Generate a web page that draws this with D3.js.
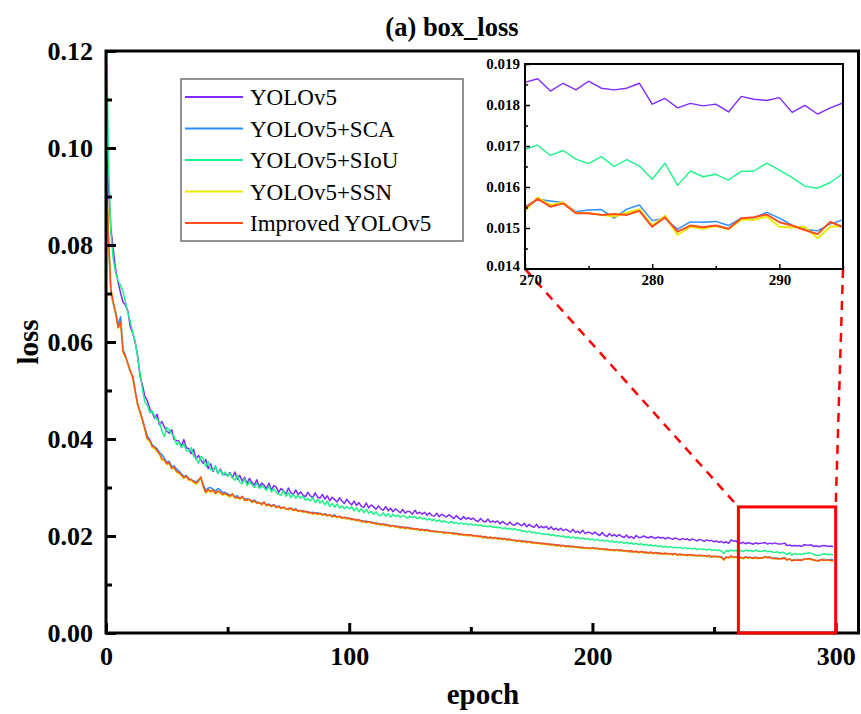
<!DOCTYPE html>
<html>
<head>
<meta charset="utf-8">
<script src="https://cdn.jsdelivr.net/npm/d3@7"></script>
<style>
  body { margin: 0; background: #fff; }
  text { font-family: "Liberation Serif", "Times New Roman", serif; }
</style>
</head>
<body>
<div id="chart"></div>
<script>
// loss values per epoch (0..299), stored in units of 1e-5
const lossUnit = 1e-5;

const yolov5 = [
10100,9250,8350,7900,7480,7230,7010,6820,6760,6640,
6310,6180,5990,5720,5290,5110,4880,4790,4620,4540,
4430,4510,4290,4360,4250,4160,4120,4190,3990,3970,
3960,3850,3990,3820,3800,3700,3790,3590,3660,3570,
3500,3580,3390,3490,3330,3440,3290,3380,3280,3270,
3250,3310,3200,3320,3170,3250,3130,3210,3080,3190,
3100,3050,3160,3010,3090,3050,2980,3090,2950,3040,
3010,2900,2980,2930,2870,2990,2890,2860,2950,2850,
2910,2840,2810,2900,2830,2790,2890,2800,2780,2860,
2760,2830,2730,2800,2750,2700,2790,2720,2670,2760,
2690,2640,2720,2630,2690,2610,2590,2680,2580,2640,
2600,2550,2620,2560,2530,2610,2520,2570,2500,2560,
2520,2480,2550,2470,2510,2500,2450,2530,2460,2490,
2450,2490,2430,2480,2420,2410,2470,2400,2450,2420,
2390,2440,2400,2360,2420,2370,2340,2400,2350,2380,
2340,2370,2320,2300,2360,2310,2290,2350,2280,2310,
2280,2310,2250,2300,2260,2230,2290,2240,2220,2270,
2240,2210,2260,2190,2240,2200,2180,2240,2170,2200,
2170,2200,2140,2190,2130,2160,2120,2160,2110,2140,
2110,2080,2140,2070,2100,2060,2120,2050,2080,2070,
2040,2080,2040,2010,2070,2020,1990,2050,2000,2030,
1990,2030,1990,1970,2020,1960,1990,1950,2010,1970,
1970,2000,1980,1960,1990,1970,1950,1980,1960,1970,
1940,1970,1950,1930,1960,1940,1920,1950,1930,1940,
1910,1940,1920,1900,1930,1910,1890,1920,1900,1910,
1880,1900,1870,1890,1860,1880,1850,1920,1890,1900,
1860,1850,1870,1840,1860,1850,1830,1860,1840,1850,
1855,1864,1834,1853,1837,1858,1841,1837,1841,1853,
1802,1816,1793,1804,1798,1802,1783,1821,1814,1811,
1818,1782,1799,1778,1793,1805,1797,1784,1792,1779];

const yolov5Sca = [
9700,8100,7000,6780,6620,6350,6520,5850,5720,5530,
5380,5300,5010,4700,4580,4400,4230,4060,3990,3880,
3840,3800,3720,3680,3600,3520,3540,3430,3450,3380,
3340,3280,3230,3250,3190,3150,3140,3110,3160,3180,
3060,2940,2990,3000,2960,2930,2980,2950,2890,2900,
2870,2840,2850,2810,2830,2780,2800,2760,2770,2740,
2720,2740,2700,2680,2670,2690,2640,2660,2620,2650,
2600,2620,2580,2590,2550,2570,2560,2540,2560,2520,
2510,2520,2490,2500,2470,2490,2460,2480,2450,2430,
2460,2430,2420,2410,2440,2380,2400,2380,2360,2370,
2350,2360,2330,2340,2310,2320,2290,2310,2280,2290,
2260,2270,2240,2250,2230,2240,2210,2220,2200,2210,
2180,2190,2170,2180,2160,2170,2140,2150,2130,2140,
2120,2130,2110,2120,2090,2100,2080,2090,2070,2080,
2060,2070,2050,2060,2040,2050,2020,2030,2010,2020,
2010,2010,1990,2000,1980,1990,1960,1970,1950,1960,
1950,1960,1940,1950,1930,1940,1910,1920,1900,1910,
1890,1900,1880,1890,1870,1880,1850,1860,1850,1850,
1830,1840,1820,1830,1810,1820,1800,1810,1790,1800,
1780,1790,1770,1780,1760,1770,1750,1760,1740,1750,
1740,1750,1730,1740,1720,1730,1710,1720,1700,1710,
1700,1710,1690,1700,1680,1690,1670,1680,1660,1670,
1670,1670,1650,1660,1650,1650,1640,1650,1630,1640,
1630,1640,1620,1630,1620,1620,1610,1620,1600,1610,
1600,1610,1590,1600,1590,1600,1580,1590,1570,1580,
1570,1580,1560,1570,1520,1560,1550,1580,1560,1560,
1560,1550,1550,1560,1560,1550,1550,1560,1550,1550,
1552,1570,1566,1562,1540,1544,1545,1524,1546,1556,
1518,1524,1497,1515,1514,1516,1506,1524,1525,1538,
1524,1507,1497,1493,1510,1520,1512,1505,1515,1508];

const yolov5Siou = [
13000,9800,8250,7700,7420,7260,7170,7040,6820,6600,
6420,6190,6010,5690,5360,5010,4760,4700,4540,4570,
4470,4400,4350,4160,4050,4240,4180,4110,4050,3880,
3940,3820,3900,3760,3750,3820,3650,3600,3500,3640,
3600,3430,3530,3370,3350,3450,3290,3360,3250,3320,
3230,3290,3190,3150,3250,3110,3080,3180,3040,3120,
3060,3000,3090,2980,3040,3000,2940,3030,2910,2970,
2900,2860,2840,2940,2820,2890,2790,2860,2780,2840,
2780,2820,2740,2770,2720,2790,2690,2760,2680,2730,
2640,2720,2610,2670,2590,2660,2580,2620,2560,2610,
2560,2600,2520,2580,2500,2560,2480,2550,2470,2510,
2450,2500,2430,2420,2480,2410,2460,2390,2450,2400,
2430,2390,2420,2400,2370,2410,2380,2400,2360,2390,
2350,2370,2330,2360,2320,2340,2300,2330,2290,2310,
2290,2270,2300,2260,2280,2250,2270,2240,2260,2230,
2250,2220,2240,2210,2230,2200,2210,2190,2210,2180,
2190,2170,2180,2150,2170,2140,2160,2130,2150,2120,
2130,2100,2110,2080,2100,2070,2080,2050,2070,2040,
2050,2030,2040,2010,2030,2000,2010,1990,2000,1970,
1990,1960,1980,1950,1970,1940,1960,1930,1950,1920,
1940,1910,1930,1900,1920,1890,1910,1880,1900,1870,
1890,1860,1880,1850,1870,1840,1860,1830,1850,1820,
1840,1810,1830,1800,1820,1790,1810,1780,1800,1770,
1790,1760,1780,1760,1770,1750,1770,1740,1760,1740,
1750,1730,1750,1720,1740,1720,1730,1710,1730,1700,
1720,1700,1710,1690,1640,1700,1680,1710,1690,1700,
1690,1700,1680,1710,1690,1700,1680,1710,1690,1680,
1692,1702,1677,1689,1668,1657,1674,1650,1667,1651,
1619,1658,1604,1639,1625,1631,1617,1638,1639,1658,
1641,1623,1602,1597,1611,1633,1628,1615,1622,1610];

const yolov5Ssn = [
9800,8150,7050,6800,6560,6280,6400,5780,5680,5540,
5390,5240,4960,4700,4540,4370,4180,3990,3940,3820,
3800,3740,3680,3560,3550,3470,3490,3380,3400,3310,
3290,3240,3180,3220,3150,3140,3100,3060,3110,3200,
3000,2880,2940,2900,2930,2860,2910,2880,2840,2860,
2830,2800,2850,2780,2790,2760,2800,2730,2730,2750,
2690,2720,2670,2680,2640,2690,2620,2640,2600,2630,
2580,2600,2560,2590,2550,2540,2570,2520,2540,2500,
2520,2490,2500,2470,2480,2450,2470,2440,2460,2430,
2440,2410,2430,2390,2410,2380,2400,2360,2380,2350,
2360,2330,2340,2310,2330,2290,2300,2270,2290,2260,
2270,2240,2250,2220,2240,2210,2220,2190,2210,2180,
2190,2160,2180,2150,2170,2140,2150,2130,2140,2110,
2130,2100,2120,2090,2100,2080,2090,2070,2080,2050,
2070,2050,2060,2030,2050,2020,2030,2010,2020,2000,
2020,1990,2000,1980,1990,1960,1980,1950,1970,1940,
1960,1930,1950,1920,1940,1910,1930,1900,1910,1880,
1900,1870,1890,1860,1880,1850,1860,1840,1850,1830,
1840,1820,1830,1810,1820,1790,1810,1780,1800,1770,
1790,1770,1780,1760,1770,1750,1760,1740,1750,1730,
1750,1730,1740,1720,1730,1710,1720,1700,1710,1690,
1710,1690,1700,1680,1690,1670,1690,1660,1680,1650,
1670,1650,1660,1640,1660,1630,1650,1630,1640,1620,
1640,1620,1630,1610,1630,1600,1620,1600,1610,1590,
1610,1590,1600,1580,1600,1580,1590,1570,1590,1560,
1580,1560,1570,1550,1500,1560,1540,1580,1550,1560,
1540,1550,1530,1560,1540,1550,1530,1550,1530,1540,
1542,1574,1556,1562,1537,1536,1532,1528,1537,1546,
1506,1530,1483,1503,1498,1505,1497,1520,1520,1528,
1503,1501,1503,1475,1503,1505,1494,1500,1490,1485];

const improvedYolov5 = [
9900,8200,7100,6820,6580,6300,6420,5800,5700,5560,
5400,5270,4980,4720,4560,4390,4200,4010,3970,3850,
3830,3760,3700,3590,3570,3490,3510,3400,3420,3330,
3310,3260,3200,3240,3160,3170,3120,3090,3140,3220,
3020,2900,2960,2920,2950,2880,2930,2900,2860,2880,
2850,2820,2870,2790,2800,2770,2820,2740,2740,2760,
2700,2730,2680,2690,2650,2700,2630,2650,2610,2640,
2590,2610,2570,2600,2560,2550,2580,2530,2550,2510,
2530,2500,2510,2480,2490,2460,2480,2450,2470,2440,
2450,2420,2440,2400,2420,2390,2410,2370,2390,2360,
2370,2340,2350,2320,2340,2300,2310,2280,2300,2270,
2280,2250,2260,2230,2250,2220,2230,2200,2220,2190,
2200,2170,2190,2160,2180,2150,2160,2140,2150,2120,
2140,2110,2130,2100,2110,2090,2100,2080,2090,2060,
2080,2060,2070,2040,2060,2030,2040,2020,2030,2010,
2030,2000,2010,1990,2000,1970,1990,1960,1980,1950,
1970,1940,1960,1930,1950,1920,1940,1910,1920,1890,
1910,1880,1900,1870,1890,1860,1870,1850,1860,1840,
1850,1830,1840,1820,1830,1800,1820,1790,1810,1780,
1800,1780,1790,1770,1780,1760,1770,1750,1760,1740,
1760,1740,1750,1730,1740,1720,1730,1710,1720,1700,
1720,1700,1710,1690,1700,1680,1700,1670,1690,1660,
1680,1660,1670,1650,1670,1640,1660,1640,1650,1630,
1650,1630,1640,1620,1640,1610,1630,1610,1620,1600,
1620,1600,1610,1590,1610,1590,1600,1580,1600,1570,
1590,1570,1580,1560,1510,1570,1550,1590,1560,1570,
1550,1560,1540,1570,1550,1560,1540,1560,1540,1550,
1548,1571,1552,1560,1536,1536,1532,1534,1532,1542,
1503,1526,1491,1506,1502,1506,1498,1524,1526,1533,
1514,1506,1495,1485,1515,1502,1498,1508,1495,1490];

const seriesNames = ["YOLOv5", "YOLOv5+SCA", "YOLOv5+SIoU", "YOLOv5+SSN", "Improved YOLOv5"];
const seriesValues = [yolov5, yolov5Sca, yolov5Siou, yolov5Ssn, improvedYolov5];
const seriesColors = ["#7f2bff", "#2a8cff", "#1ef28a", "#eaea00", "#ff4e1a"];

const yTicks = [0, 0.02, 0.04, 0.06, 0.08, 0.10, 0.12];
const yMinorTicks = [0.01, 0.03, 0.05, 0.07, 0.09, 0.11];
const xTicks = [0, 100, 200, 300];
const xMinorTicks = [50, 150, 250];

// zoomed inset
const insetEpochs = [270, 295];
const insetLoss = [0.014, 0.019];
const insetYTicks = [0.014, 0.015, 0.016, 0.017, 0.018, 0.019];
const insetYMinor = [0.0145, 0.0155, 0.0165, 0.0175, 0.0185];
const insetXTicks = [270, 280, 290];
const insetXMinor = [275, 285, 295];
// red box marking the zoomed region on the main chart
const boxEpochs = [260, 300];
const boxLoss = [0, 0.026];

const width = 861, height = 714;
const margin = ({top: 51, right: 1, bottom: 81, left: 106});

const series = seriesNames.map((name, i) => ({
  name: name,
  color: seriesColors[i],
  values: seriesValues[i].map((v, e) => [e, v * lossUnit])
}));

const x = d3.scaleLinear().domain([0, 310]).range([margin.left, width - margin.right]);
const y = d3.scaleLinear().domain([0, 0.12]).range([height - margin.bottom, margin.top]);

const xi = d3.scaleLinear().domain(insetEpochs).range([525, 843]);
const yi = d3.scaleLinear().domain(insetLoss).range([269, 64]);

const line = d3.line().x(d => x(d[0])).y(d => y(d[1]));
const insetLine = d3.line().x(d => xi(d[0])).y(d => yi(d[1]));

document.addEventListener("DOMContentLoaded", function() {
  const svg = d3.select("#chart").append("svg")
    .attr("width", width).attr("height", height)
    .style("background", "#fff");

  const defs = svg.append("defs");
  defs.append("clipPath").attr("id", "plotclip").append("rect")
    .attr("x", x.range()[0]).attr("y", y.range()[1])
    .attr("width", x.range()[1] - x.range()[0]).attr("height", y.range()[0] - y.range()[1]);
  defs.append("clipPath").attr("id", "insetclip").append("rect")
    .attr("x", xi.range()[0]).attr("y", yi.range()[1])
    .attr("width", xi.range()[1] - xi.range()[0]).attr("height", yi.range()[0] - yi.range()[1]);

  // main curves
  svg.append("g").attr("clip-path", "url(#plotclip)")
    .selectAll("path").data(series).enter().append("path")
    .attr("fill", "none")
    .attr("stroke", d => d.color)
    .attr("stroke-width", 1.5)
    .attr("stroke-linejoin", "round")
    .attr("d", d => line(d.values));

  // axes with inward ticks
  const tickFont = g => g.selectAll("text")
    .style("font-family", "'Liberation Serif', serif")
    .style("font-weight", "bold").style("font-size", "26px").attr("fill", "#000");

  svg.append("g").attr("transform", `translate(${margin.left},0)`)
    .call(d3.axisLeft(y).tickValues(yTicks).tickFormat(d3.format(".2f")).tickSize(-10).tickPadding(13).tickSizeOuter(0))
    .call(g => g.select(".domain").remove())
    .call(g => g.selectAll("line").attr("stroke-width", 3))
    .call(tickFont);
  svg.append("g").attr("transform", `translate(${margin.left},0)`)
    .call(d3.axisLeft(y).tickValues(yMinorTicks).tickFormat("").tickSize(-6).tickSizeOuter(0))
    .call(g => g.select(".domain").remove())
    .call(g => g.selectAll("line").attr("stroke-width", 3));

  svg.append("g").attr("transform", `translate(0,${height - margin.bottom})`)
    .call(d3.axisBottom(x).tickValues(xTicks).tickFormat(d3.format("d")).tickSize(-10).tickPadding(14).tickSizeOuter(0))
    .call(g => g.select(".domain").remove())
    .call(g => g.selectAll("line").attr("stroke-width", 3))
    .call(tickFont);
  svg.append("g").attr("transform", `translate(0,${height - margin.bottom})`)
    .call(d3.axisBottom(x).tickValues(xMinorTicks).tickFormat("").tickSize(-6).tickSizeOuter(0))
    .call(g => g.select(".domain").remove())
    .call(g => g.selectAll("line").attr("stroke-width", 3));

  // plot frame
  svg.append("rect")
    .attr("x", x.range()[0]).attr("y", y.range()[1])
    .attr("width", x.range()[1] - x.range()[0] - 1.5).attr("height", y.range()[0] - y.range()[1])
    .attr("fill", "none").attr("stroke", "#000").attr("stroke-width", 3);

  // titles
  svg.append("text")
    .attr("x", 452).attr("y", 36)
    .attr("text-anchor", "middle")
    .style("font-weight", "bold").style("font-size", "26.5px")
    .text("(a) box_loss");

  svg.append("text")
    .attr("x", (x.range()[0] + x.range()[1]) / 2).attr("y", 704)
    .attr("text-anchor", "middle")
    .style("font-weight", "bold").style("font-size", "29px")
    .text("epoch");

  svg.append("text")
    .attr("transform", `translate(38,${(y.range()[0] + y.range()[1]) / 2}) rotate(-90)`)
    .attr("text-anchor", "middle")
    .style("font-weight", "bold").style("font-size", "29px")
    .text("loss");

  // legend
  const legend = svg.append("g").attr("transform", "translate(181,79)");
  legend.append("rect")
    .attr("width", 282).attr("height", 162)
    .attr("fill", "#fff").attr("stroke", "#707070").attr("stroke-width", 1.5);
  const item = legend.selectAll("g.item").data(series).enter().append("g")
    .attr("class", "item")
    .attr("transform", (d, i) => `translate(0,${18 + i * 31.5})`);
  item.append("line")
    .attr("x1", 4).attr("x2", 62)
    .attr("stroke", d => d.color).attr("stroke-width", 2);
  item.append("text")
    .attr("x", 69).attr("y", 8)
    .style("font-size", "23px")
    .text(d => d.name);

  // red zoom box and connectors
  svg.append("rect")
    .attr("x", x(boxEpochs[0])).attr("y", y(boxLoss[1]))
    .attr("width", x(boxEpochs[1]) - x(boxEpochs[0])).attr("height", y(boxLoss[0]) - y(boxLoss[1]))
    .attr("fill", "none").attr("stroke", "#ff0000").attr("stroke-width", 3);

  svg.append("line")
    .attr("x1", xi(insetEpochs[0])).attr("y1", yi(insetLoss[0]))
    .attr("x2", x(boxEpochs[0])).attr("y2", y(boxLoss[1]))
    .attr("stroke", "#ff0000").attr("stroke-width", 2.5).attr("stroke-dasharray", "9,7");
  svg.append("line")
    .attr("x1", xi(insetEpochs[1])).attr("y1", yi(insetLoss[0]))
    .attr("x2", x(boxEpochs[1])).attr("y2", y(boxLoss[1]))
    .attr("stroke", "#ff0000").attr("stroke-width", 2.5).attr("stroke-dasharray", "9,7");

  // inset
  const inset = svg.append("g");
  inset.append("rect")
    .attr("x", xi.range()[0]).attr("y", yi.range()[1])
    .attr("width", xi.range()[1] - xi.range()[0]).attr("height", yi.range()[0] - yi.range()[1])
    .attr("fill", "#fff");

  inset.append("g").attr("clip-path", "url(#insetclip)")
    .selectAll("path").data(series).enter().append("path")
    .attr("fill", "none")
    .attr("stroke", d => d.color)
    .attr("stroke-width", (d, i) => i >= 3 ? 2 : 1.4)
    .attr("stroke-linejoin", "round")
    .attr("d", d => insetLine(d.values.filter(v => v[0] >= 269 && v[0] <= 296)));

  const insetFont = g => g.selectAll("text")
    .style("font-family", "'Liberation Serif', serif")
    .style("font-weight", "bold").style("font-size", "15px").attr("fill", "#000");

  inset.append("g").attr("transform", `translate(${xi.range()[0]},0)`)
    .call(d3.axisLeft(yi).tickValues(insetYTicks).tickFormat(d3.format(".3f")).tickSize(-5).tickPadding(5).tickSizeOuter(0))
    .call(g => g.select(".domain").remove())
    .call(g => g.selectAll("line").attr("stroke-width", 1.5))
    .call(g => g.selectAll("text").attr("dy", (d, i) => i === 0 ? "0.1em" : "0.32em"))
    .call(insetFont);
  inset.append("g").attr("transform", `translate(${xi.range()[0]},0)`)
    .call(d3.axisLeft(yi).tickValues(insetYMinor).tickFormat("").tickSize(-3).tickSizeOuter(0))
    .call(g => g.select(".domain").remove())
    .call(g => g.selectAll("line").attr("stroke-width", 1.5));
  inset.append("g").attr("transform", `translate(0,${yi.range()[0]})`)
    .call(d3.axisBottom(xi).tickValues(insetXTicks).tickFormat(d3.format("d")).tickSize(-5).tickPadding(5).tickSizeOuter(0))
    .call(g => g.select(".domain").remove())
    .call(g => g.selectAll("line").attr("stroke-width", 1.5))
    .call(g => g.selectAll("text").attr("dx", (d, i) => i === 0 ? "0.35em" : 0))
    .call(insetFont);
  inset.append("g").attr("transform", `translate(0,${yi.range()[0]})`)
    .call(d3.axisBottom(xi).tickValues(insetXMinor).tickFormat("").tickSize(-3).tickSizeOuter(0))
    .call(g => g.select(".domain").remove())
    .call(g => g.selectAll("line").attr("stroke-width", 1.5));

  inset.append("rect")
    .attr("x", xi.range()[0]).attr("y", yi.range()[1])
    .attr("width", xi.range()[1] - xi.range()[0]).attr("height", yi.range()[0] - yi.range()[1])
    .attr("fill", "none").attr("stroke", "#000").attr("stroke-width", 2);
});
</script>
</body>
</html>
